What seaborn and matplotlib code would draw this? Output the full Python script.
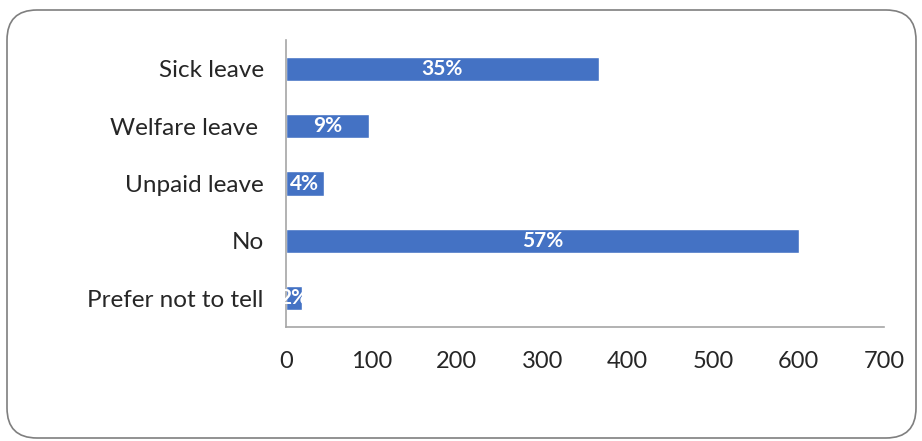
import matplotlib
matplotlib.use("Agg")
import matplotlib.pyplot as plt
import seaborn as sns
import pandas as pd
from matplotlib.patches import FancyBboxPatch
from matplotlib.transforms import IdentityTransform

categories = ["Sick leave", "Welfare leave ", "Unpaid leave", "No", "Prefer not to tell"]
counts = [366, 97, 44, 600, 19]
pct_labels = ["35%", "9%", "4%", "57%", "2%"]
x_ticks = [0, 100, 200, 300, 400, 500, 600, 700]

sns.set_theme(style="white")
plt.rcParams["font.family"] = ["Lato", "DejaVu Sans"]

fig = plt.figure(figsize=(9.22, 4.41), dpi=100)
ax = fig.add_axes([286 / 922, 1 - 327 / 441, (884 - 286) / 922, (327 - 40) / 441])

df = pd.DataFrame({"cat": categories, "n": counts})
sns.barplot(data=df, y="cat", x="n", orient="h", color="#4472C4",
            saturation=1, width=0.42, ax=ax)

for i, (v, lab) in enumerate(zip(counts, pct_labels)):
    ax.text(v / 2, i, lab, ha="center", va="center", color="white",
            fontsize=15, fontweight="bold", clip_on=False)

ax.set_xlim(0, 700)
ax.set_xticks(x_ticks)
ax.set_xticklabels([str(t) for t in x_ticks], fontsize=17)
ax.tick_params(axis="y", labelsize=17.5, length=0, pad=16)
ax.tick_params(axis="x", length=0, pad=17)
ax.set_xlabel("")
ax.set_ylabel("")
for s in ["top", "right"]:
    ax.spines[s].set_visible(False)
for s in ["left", "bottom"]:
    ax.spines[s].set_color("#A6A6A6")
    ax.spines[s].set_linewidth(1.2)
ax.grid(False)

border = FancyBboxPatch((7, 3), 909, 428, boxstyle="round,pad=0,rounding_size=30",
                        transform=IdentityTransform(), fill=False,
                        edgecolor="#7F7F7F", linewidth=1.2)
fig.patches.append(border)

fig.savefig("out.png", dpi=100)
